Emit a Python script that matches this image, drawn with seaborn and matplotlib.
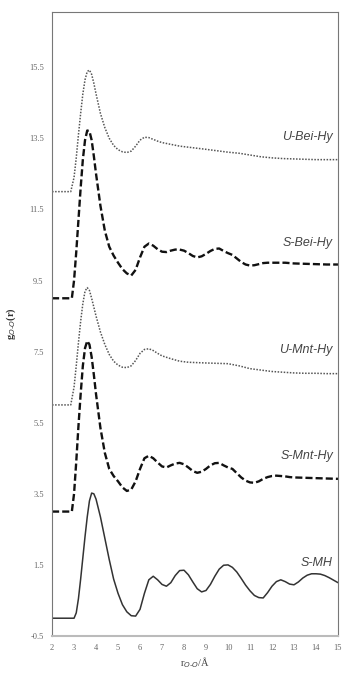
import numpy as np
import pandas as pd
import matplotlib
matplotlib.use("Agg")
import matplotlib.pyplot as plt
import seaborn as sns

# radial grids (Å)
r_fine = [2.0, 2.9, 3.0, 3.1, 3.2, 3.3, 3.4, 3.5, 3.6, 3.7, 3.8, 3.9, 4.0, 4.2, 4.4, 4.6,
          4.8, 5.0, 5.2, 5.4, 5.6, 5.8, 6.0, 6.2, 6.4, 6.6, 6.8, 7.0, 7.2, 7.4, 7.6, 7.8,
          8.0, 8.2, 8.4, 8.6, 8.8, 9.0, 9.2, 9.4, 9.6, 9.8, 10.0, 10.2, 10.4, 10.6, 10.8,
          11.0, 11.2, 11.4, 11.6, 11.8, 12.0, 12.2, 12.4, 12.6, 12.8, 13.0, 13.5, 14.0,
          14.5, 15.0]
r_mh = [2.0, 3.0, 3.1, 3.2, 3.3, 3.4, 3.5, 3.6, 3.7, 3.8, 3.9, 4.0, 4.2, 4.4, 4.6, 4.8,
        5.0, 5.2, 5.4, 5.6, 5.8, 6.0, 6.2, 6.4, 6.6, 6.8, 7.0, 7.2, 7.4, 7.6, 7.8, 8.0,
        8.2, 8.4, 8.6, 8.8, 9.0, 9.2, 9.4, 9.6, 9.8, 10.0, 10.2, 10.4, 10.6, 10.8, 11.0,
        11.2, 11.4, 11.6, 11.8, 12.0, 12.2, 12.4, 12.6, 12.8, 13.0, 13.2, 13.4, 13.6,
        13.8, 14.0, 14.2, 14.4, 14.6, 14.8, 15.0]
r_unit = [2.0, 2.85, 3.0, 3.1, 3.2, 3.3, 3.4, 3.5, 3.6, 3.7, 3.8, 3.9, 4.0, 4.2, 4.4,
          4.6, 4.8, 5.0, 5.2, 5.4, 5.6, 5.8, 6.0, 6.2, 6.4, 6.6, 6.8, 7.0, 7.4, 7.8, 8.2,
          8.6, 9.0, 9.5, 10.0, 10.5, 11.0, 11.5, 12.0, 12.5, 13.0, 13.5, 14.0, 14.5, 15.0]

g_s_mh = [0, 0.0, 0.15, 0.55, 1.1, 1.7, 2.3, 2.85, 3.3, 3.52, 3.5, 3.35, 2.85, 2.25, 1.65,
          1.1, 0.7, 0.38, 0.18, 0.07, 0.06, 0.25, 0.7, 1.08, 1.18, 1.08, 0.95, 0.9, 1.0,
          1.2, 1.34, 1.35, 1.22, 1.02, 0.83, 0.74, 0.78, 0.95, 1.18, 1.38, 1.49, 1.5,
          1.43, 1.3, 1.12, 0.93, 0.77, 0.64, 0.58, 0.57, 0.72, 0.9, 1.03, 1.08, 1.03,
          0.96, 0.94, 1.02, 1.13, 1.21, 1.25, 1.25, 1.24, 1.2, 1.14, 1.07, 1.0]
g_s_mnt = [0, 0, 0.5, 1.4, 2.4, 3.3, 4.1, 4.6, 4.8, 4.7, 4.35, 3.85, 3.3, 2.35, 1.65, 1.2,
           1.0, 0.85, 0.68, 0.58, 0.62, 0.85, 1.2, 1.5, 1.57, 1.5, 1.38, 1.27, 1.24, 1.3,
           1.35, 1.37, 1.33, 1.24, 1.14, 1.09, 1.12, 1.2, 1.3, 1.36, 1.37, 1.3, 1.24, 1.2,
           1.08, 0.96, 0.87, 0.82, 0.81, 0.85, 0.92, 0.97, 1.0, 1.01, 1.0, 0.99, 0.97,
           0.96, 0.95, 0.94, 0.93, 0.92]
g_u_mnt = [0, 0, 0.5, 1.1, 1.75, 2.35, 2.85, 3.2, 3.3, 3.22, 3.0, 2.75, 2.5, 2.05, 1.7,
           1.42, 1.23, 1.12, 1.06, 1.05, 1.1, 1.25, 1.45, 1.56, 1.58, 1.53, 1.45, 1.38,
           1.3, 1.23, 1.2, 1.19, 1.18, 1.17, 1.16, 1.1, 1.02, 0.98, 0.94, 0.92, 0.9, 0.89,
           0.89, 0.88, 0.88]
g_s_bei = [0, 0, 0.5, 1.3, 2.2, 3.1, 3.9, 4.45, 4.72, 4.7, 4.45, 4.0, 3.5, 2.6, 1.9, 1.45,
           1.2, 1.0, 0.82, 0.7, 0.64, 0.8, 1.15, 1.45, 1.54, 1.48, 1.38, 1.31, 1.3, 1.34,
           1.37, 1.37, 1.34, 1.27, 1.19, 1.15, 1.18, 1.25, 1.33, 1.39, 1.4, 1.33, 1.27,
           1.22, 1.12, 1.02, 0.95, 0.92, 0.93, 0.96, 0.99, 1.0, 1.0, 1.0, 1.0, 1.0, 0.99,
           0.98, 0.97, 0.96, 0.95, 0.95]
g_u_bei = [0, 0, 0.4, 0.95, 1.6, 2.2, 2.75, 3.15, 3.38, 3.42, 3.3, 3.05, 2.75, 2.2, 1.8,
           1.5, 1.3, 1.18, 1.12, 1.1, 1.14, 1.28, 1.45, 1.53, 1.52, 1.47, 1.42, 1.38, 1.33,
           1.28, 1.25, 1.22, 1.19, 1.15, 1.11, 1.08, 1.03, 0.98, 0.95, 0.93, 0.92, 0.91,
           0.9, 0.9, 0.9]

names = ["S-MH", "S-Mnt-Hy", "U-Mnt-Hy", "S-Bei-Hy", "U-Bei-Hy"]
offsets = [0, 3, 6, 9, 12]
y_ticks = [-0.5, 1.5, 3.5, 5.5, 7.5, 9.5, 11.5, 13.5, 15.5]
x_ticks = list(range(2, 16))

series = [
    (r_mh, g_s_mh, "solid"),
    (r_fine, g_s_mnt, "dashed"),
    (r_unit, g_u_mnt, "dotted"),
    (r_fine, g_s_bei, "dashed"),
    (r_unit, g_u_bei, "dotted"),
]

styles = {
    "solid": dict(color="#333333", linewidth=1.1, linestyle="-"),
    "dashed": dict(color="#111111", linewidth=1.7, linestyle=(0, (3, 1.3))),
    "dotted": dict(color="#555555", linewidth=1.1, linestyle=(0, (1, 1))),
}

sns.set_style("white")
fig = plt.figure(figsize=(3.47, 6.73), dpi=100)
ax = fig.add_axes([0.150, 0.055, 0.824, 0.927])

for name, off, (r, g, kind) in zip(names, offsets, series):
    df = pd.DataFrame({"r": r, "g": np.array(g) + off})
    sns.lineplot(data=df, x="r", y="g", ax=ax, sort=False, **styles[kind])
    ax.text(14.77, off + 1.55, name, ha="right", va="center", fontsize=9,
            style="italic", color="#444444", family="Liberation Sans")

ax.set_xlim(2, 15)
ax.set_ylim(-0.5, 17.05)
ax.set_xticks(x_ticks)
ax.set_yticks(y_ticks)
ax.set_xticklabels([str(v) for v in x_ticks], fontsize=6, color="#666666",
                   family="Liberation Serif")
ax.set_yticklabels([str(v) for v in y_ticks], fontsize=6, color="#666666",
                   family="Liberation Serif")
ax.tick_params(direction="in", length=2, width=0.6, color="#888888", pad=6)

for side in ["left", "right", "top"]:
    ax.spines[side].set_color("#777777")
    ax.spines[side].set_linewidth(0.8)
ax.spines["bottom"].set_color("#bbbbbb")
ax.spines["bottom"].set_linewidth(1.5)

ax.set_xlabel("r$_{O\u2011O}$/Å", fontsize=7.5, color="#444444", family="Liberation Serif",
              labelpad=2)
ax.set_ylabel("g$_{O\u2011O}$(r)", fontsize=7.5, color="#333333", family="Liberation Serif",
              fontweight="bold", labelpad=8)

fig.savefig("out.png", dpi=100)
